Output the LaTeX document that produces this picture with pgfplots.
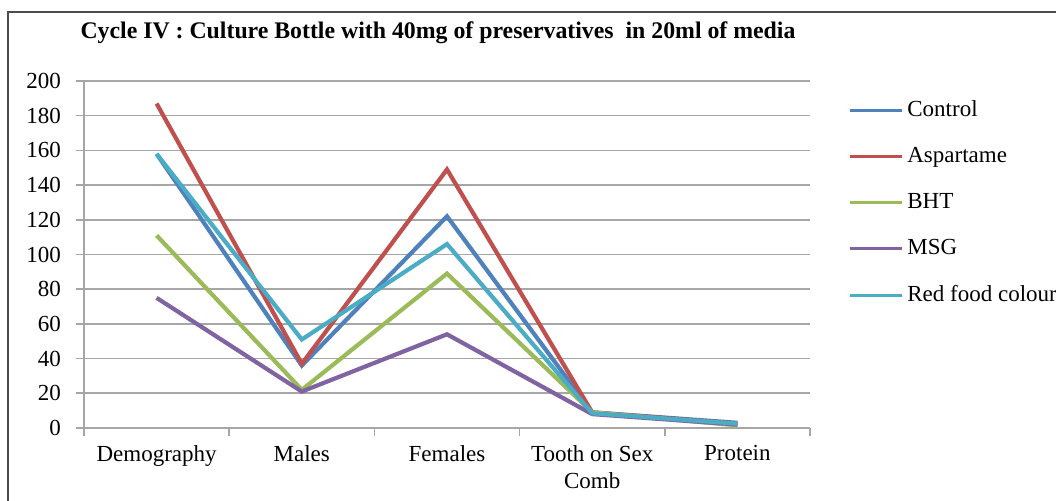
\documentclass[border=0pt]{standalone}
\usepackage{pgfplots}
\pgfplotsset{compat=1.18}
\usepackage{fontspec}
\setmainfont{Liberation Serif}
\definecolor{cBlue}{HTML}{4F81BD}
\definecolor{cRed}{HTML}{C0504D}
\definecolor{cGreen}{HTML}{9BBB59}
\definecolor{cPurple}{HTML}{8064A2}
\definecolor{cCyan}{HTML}{4BACC6}
\begin{document}
\begin{tikzpicture}
\clip (0,0) rectangle (528pt,-250.5pt);
\path[use as bounding box] (0,0) rectangle (528pt,-250.5pt);
\draw[gray!60!black, line width=0.8pt] (4pt,-6pt) rectangle (540pt,-262pt);
\node[font=\fontsize{11.9}{13}\selectfont\bfseries, inner sep=0pt] at (219pt,-16.5pt) {Cycle IV : Culture Bottle with 40mg of preservatives\ \ in 20ml of media};
\begin{axis}[
  at={(42pt,-214pt)}, anchor=south west,
  width=363pt, height=173.5pt, scale only axis,
  xmin=-0.5, xmax=4.5, ymin=0, ymax=200,
  xtick={-0.5,0.5,1.5,2.5,3.5,4.5},
  x tick label as interval,
  xticklabels={Demography,Males,Females,{Tooth on Sex\\Comb},Protein},
  xticklabel style={align=center, inner sep=1pt, yshift=-3.5pt, font=\fontsize{11.5}{13.5}\selectfont},
  yticklabel style={xshift=-4pt},
  ytick={0,20,...,200},
  ymajorgrids,
  grid style={gray!70, line width=0.8pt},
  axis x line*=bottom, axis y line*=left,
  axis line style={gray!70, line width=0.8pt, -},
  tick style={gray!70, line width=0.8pt},
  tick align=outside, major tick length=4pt,
  ticklabel style={font=\fontsize{11.5}{13.5}\selectfont},
  /pgf/number format/assume math mode=true,
  legend style={at={(1.052,0.955)}, anchor=north west, draw=none, fill=none,
    font=\fontsize{11.5}{12.5}\selectfont, row sep=9.9pt, inner sep=0pt,
    /tikz/every even column/.append style={column sep=0pt}},
  legend cell align=left,
  legend image code/.code={\draw[#1, line width=1.6pt] (0pt,0pt) -- (26pt,0pt);},
  every axis plot/.append style={line width=2.1pt, line join=miter},
]
\addplot[cBlue] coordinates {(0,158) (1,36) (2,122) (3,9) (4,3)};
\addlegendentry{Control}
\addplot[cRed] coordinates {(0,187) (1,37) (2,149) (3,9) (4,2.5)};
\addlegendentry{Aspartame}
\addplot[cGreen] coordinates {(0,111) (1,22) (2,89) (3,9) (4,1.5)};
\addlegendentry{BHT}
\addplot[cPurple] coordinates {(0,75) (1,21) (2,54) (3,8) (4,2)};
\addlegendentry{MSG}
\addplot[cCyan] coordinates {(0,158) (1,51) (2,106) (3,8.5) (4,2.5)};
\addlegendentry{Red food colour}
\end{axis}
\end{tikzpicture}
\end{document}
